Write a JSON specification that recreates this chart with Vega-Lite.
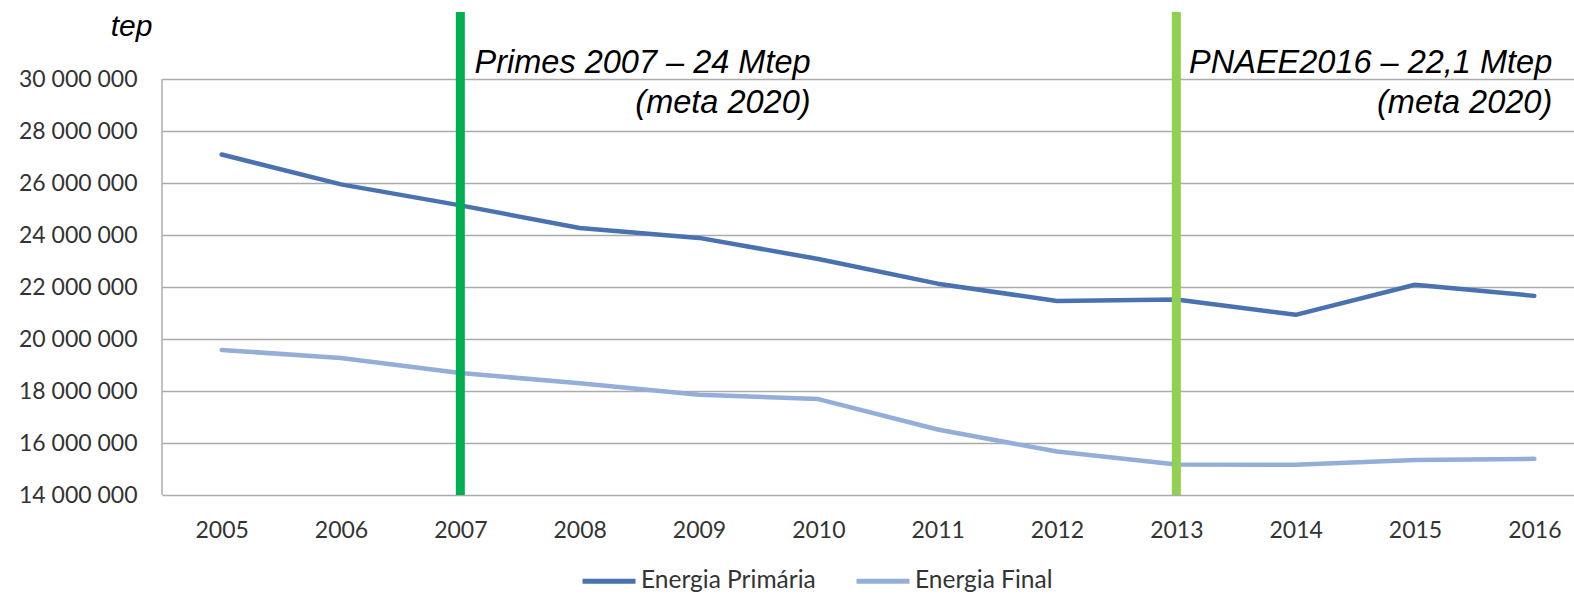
{
  "$schema": "https://vega.github.io/schema/vega-lite/v6.json",
  "width": 1432,
  "height": 483,
  "autosize": {"type": "none"},
  "padding": {"left": 162, "top": 12, "right": 0, "bottom": 107},
  "background": "white",
  "config": {"view": {"stroke": null}, "font": "Lato"},
  "datasets": {
    "series": [
      {"year": 2005, "series": "Energia Primária", "value": 27100000},
      {"year": 2006, "series": "Energia Primária", "value": 25950000},
      {"year": 2007, "series": "Energia Primária", "value": 25140000},
      {"year": 2008, "series": "Energia Primária", "value": 24270000},
      {"year": 2009, "series": "Energia Primária", "value": 23890000},
      {"year": 2010, "series": "Energia Primária", "value": 23080000},
      {"year": 2011, "series": "Energia Primária", "value": 22130000},
      {"year": 2012, "series": "Energia Primária", "value": 21460000},
      {"year": 2013, "series": "Energia Primária", "value": 21520000},
      {"year": 2014, "series": "Energia Primária", "value": 20930000},
      {"year": 2015, "series": "Energia Primária", "value": 22090000},
      {"year": 2016, "series": "Energia Primária", "value": 21660000},
      {"year": 2005, "series": "Energia Final", "value": 19580000},
      {"year": 2006, "series": "Energia Final", "value": 19270000},
      {"year": 2007, "series": "Energia Final", "value": 18690000},
      {"year": 2008, "series": "Energia Final", "value": 18300000},
      {"year": 2009, "series": "Energia Final", "value": 17860000},
      {"year": 2010, "series": "Energia Final", "value": 17690000},
      {"year": 2011, "series": "Energia Final", "value": 16520000},
      {"year": 2012, "series": "Energia Final", "value": 15670000},
      {"year": 2013, "series": "Energia Final", "value": 15170000},
      {"year": 2014, "series": "Energia Final", "value": 15160000},
      {"year": 2015, "series": "Energia Final", "value": 15350000},
      {"year": 2016, "series": "Energia Final", "value": 15390000}
    ],
    "targets": [
      {"year": 2007, "plan": "Primes 2007"},
      {"year": 2013, "plan": "PNAEE2016"}
    ],
    "notes": [
      {"xr": 2009.935, "value": 30230000, "lines": ["Primes 2007 – 24 Mtep", "(meta 2020)"]},
      {"xr": 2016.15, "value": 30230000, "lines": ["PNAEE2016 – 22,1 Mtep", "(meta 2020)"]}
    ]
  },
  "layer": [
    {
      "data": {"name": "series"},
      "mark": {"type": "line", "strokeWidth": 4.5, "strokeCap": "round", "strokeJoin": "round"},
      "encoding": {
        "x": {
          "field": "year",
          "type": "quantitative",
          "title": null,
          "scale": {"domain": [2004.5, 2016.5], "nice": false, "zero": false},
          "axis": {
            "values": [2005, 2006, 2007, 2008, 2009, 2010, 2011, 2012, 2013, 2014, 2015, 2016],
            "format": "d",
            "grid": false,
            "domain": false,
            "ticks": false,
            "labelFont": "Lato",
            "labelFontSize": 23,
            "labelColor": "#333333",
            "labelPadding": 24
          }
        },
        "y": {
          "field": "value",
          "type": "quantitative",
          "title": "tep",
          "scale": {"domain": [14000000, 32580000], "nice": false, "zero": false},
          "axis": {
            "values": [14000000, 16000000, 18000000, 20000000, 22000000, 24000000, 26000000, 28000000, 30000000],
            "labelExpr": "replace(format(datum.value, ','), regexp(',', 'g'), ' ')",
            "grid": true,
            "gridColor": "#ababab",
            "gridWidth": 1.5,
            "domain": false,
            "ticks": false,
            "labelFont": "Lato",
            "labelFontSize": 23,
            "labelColor": "#333333",
            "labelPadding": 25,
            "titleAngle": 0,
            "titleFont": "Liberation Sans",
            "titleFontStyle": "italic",
            "titleFontWeight": "normal",
            "titleFontSize": 30,
            "titleColor": "#000000",
            "titleAlign": "right",
            "titleBaseline": "alphabetic",
            "titleX": -10,
            "titleY": 23
          }
        },
        "color": {
          "field": "series",
          "type": "nominal",
          "scale": {"domain": ["Energia Primária", "Energia Final"], "range": ["#4A72B0", "#93AED8"]},
          "legend": {
            "orient": "none",
            "legendX": 418,
            "legendY": 540,
            "direction": "horizontal",
            "title": null,
            "symbolType": "stroke",
            "symbolSize": 2809,
            "symbolStrokeWidth": 5,
            "labelFont": "Lato",
            "labelFontSize": 24.5,
            "labelLimit": 400,
            "labelColor": "#333333",
            "labelOffset": 3,
            "columnPadding": 30
          }
        }
      }
    },
    {
      "data": {"values": [{}]},
      "mark": {"type": "rule", "color": "#ababab", "strokeWidth": 1.5},
      "encoding": {
        "x": {"datum": 2004.5, "type": "quantitative", "title": null},
        "y": {"datum": 14000000, "type": "quantitative", "title": "tep"},
        "y2": {"datum": 30000000}
      }
    },
    {
      "data": {"name": "targets"},
      "mark": {"type": "rule", "strokeWidth": 9},
      "encoding": {
        "x": {"field": "year", "type": "quantitative", "title": null},
        "y": {"datum": 14000000, "type": "quantitative", "title": "tep"},
        "y2": {"datum": 32580000},
        "stroke": {
          "field": "plan",
          "type": "nominal",
          "scale": {"domain": ["Primes 2007", "PNAEE2016"], "range": ["#00B050", "#92D050"]},
          "legend": null
        }
      }
    },
    {
      "data": {"name": "notes"},
      "mark": {
        "type": "text",
        "align": "right",
        "baseline": "alphabetic",
        "font": "Liberation Sans",
        "fontStyle": "italic",
        "fontSize": 32.5,
        "lineHeight": 40,
        "color": "#000000"
      },
      "encoding": {
        "x": {"field": "xr", "type": "quantitative", "title": null},
        "y": {"field": "value", "type": "quantitative", "title": "tep"},
        "text": {"field": "lines"}
      }
    }
  ]
}
